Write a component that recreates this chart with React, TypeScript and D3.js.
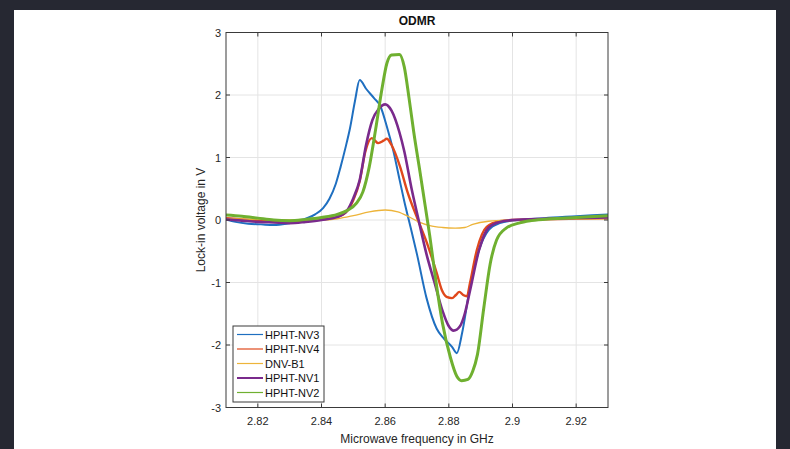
import { useEffect, useRef } from 'react';
import * as d3 from 'd3';

// series: [frequency in GHz, lock-in voltage in V]
const hphtNV3: [number, number][] = [
  [2.81, 0.01], [2.813, -0.03], [2.817, -0.06], [2.821, -0.07], [2.825, -0.08], [2.829, -0.06],
  [2.832, -0.03], [2.835, 0.02], [2.838, 0.09], [2.8405, 0.19], [2.8425, 0.34], [2.8445, 0.58],
  [2.846, 0.85], [2.8475, 1.15], [2.849, 1.48], [2.8505, 1.9], [2.852, 2.24], [2.854, 2.1],
  [2.8565, 1.95], [2.8585, 1.82], [2.8605, 1.5], [2.8626, 1.1], [2.8645, 0.65], [2.866, 0.3],
  [2.868, -0.12], [2.87, -0.55], [2.873, -1.25], [2.8762, -1.74], [2.8785, -1.9], [2.881, -2.03],
  [2.8825, -2.13], [2.8842, -1.8], [2.8865, -1.12], [2.8895, -0.48], [2.8925, -0.16], [2.896, -0.05],
  [2.9, -0.01], [2.91, 0.03], [2.92, 0.06], [2.93, 0.09],
];
const hphtNV4: [number, number][] = [
  [2.81, 0.03], [2.815, 0.01], [2.82, -0.01], [2.825, -0.03], [2.83, -0.04], [2.835, -0.02],
  [2.84, 0.01], [2.845, 0.05], [2.848, 0.14], [2.85, 0.32], [2.852, 0.62], [2.8538, 1.1],
  [2.8558, 1.31], [2.8578, 1.23], [2.8595, 1.27], [2.8605, 1.3], [2.862, 1.2], [2.8647, 0.85],
  [2.867, 0.45], [2.8703, 0.0], [2.873, -0.35], [2.8762, -0.85], [2.8778, -1.12], [2.8793, -1.23],
  [2.881, -1.25], [2.8822, -1.2], [2.8833, -1.15], [2.8845, -1.2], [2.8857, -1.22], [2.8866, -1.02],
  [2.8888, -0.48], [2.8919, -0.11], [2.896, -0.02], [2.9, 0.0], [2.91, 0.01], [2.93, 0.03],
];
const dnvB1: [number, number][] = [
  [2.81, 0.02], [2.82, 0.01], [2.83, 0.0], [2.84, 0.0], [2.845, 0.02], [2.85, 0.07], [2.855, 0.13],
  [2.86, 0.16], [2.864, 0.13], [2.8675, 0.05], [2.8705, -0.03], [2.874, -0.09], [2.878, -0.12],
  [2.882, -0.13], [2.885, -0.12], [2.8875, -0.07], [2.8925, -0.02], [2.9, 0.0], [2.91, 0.01], [2.93, 0.02],
];
const hphtNV1: [number, number][] = [
  [2.81, 0.01], [2.815, -0.01], [2.82, -0.03], [2.825, -0.04], [2.83, -0.05], [2.835, -0.03],
  [2.84, 0.0], [2.845, 0.05], [2.848, 0.15], [2.85, 0.35], [2.852, 0.64], [2.854, 1.2],
  [2.856, 1.6], [2.858, 1.78], [2.86, 1.85], [2.862, 1.75], [2.8645, 1.4], [2.866, 1.1],
  [2.8683, 0.5], [2.8705, 0.0], [2.873, -0.55], [2.8755, -1.0], [2.878, -1.45], [2.88, -1.7],
  [2.8815, -1.77], [2.8835, -1.7], [2.885, -1.5], [2.8867, -1.12], [2.8895, -0.48], [2.8925, -0.12],
  [2.896, -0.03], [2.9, 0.0], [2.91, 0.02], [2.93, 0.04],
];
const hphtNV2: [number, number][] = [
  [2.81, 0.08], [2.815, 0.06], [2.82, 0.03], [2.825, 0.0], [2.83, -0.01], [2.835, 0.01],
  [2.84, 0.04], [2.845, 0.09], [2.848, 0.15], [2.851, 0.27], [2.853, 0.45], [2.855, 0.85],
  [2.857, 1.45], [2.859, 2.1], [2.8605, 2.5], [2.862, 2.64], [2.8645, 2.65], [2.866, 2.45],
  [2.8675, 1.95], [2.869, 1.4], [2.871, 0.75], [2.8725, 0.25], [2.874, -0.25], [2.876, -1.0],
  [2.878, -1.65], [2.8805, -2.2], [2.8825, -2.5], [2.884, -2.57], [2.886, -2.55], [2.8875, -2.42],
  [2.889, -2.15], [2.891, -1.4], [2.893, -0.7], [2.895, -0.32], [2.898, -0.13], [2.902, -0.05],
  [2.906, -0.01], [2.912, 0.02], [2.92, 0.04], [2.93, 0.07],
];

const seriesNames = ['HPHT-NV3', 'HPHT-NV4', 'DNV-B1', 'HPHT-NV1', 'HPHT-NV2'];
const seriesData = [hphtNV3, hphtNV4, dnvB1, hphtNV1, hphtNV2];
const seriesColors = ['#1f6fc0', '#e0481c', '#edb43a', '#7a2a8c', '#6fb030'];
const seriesWidths = [2, 2.4, 1.3, 2.6, 3];
const legendWidths = [1.2, 1.2, 1.2, 2, 1.2];

const xTicks = [2.82, 2.84, 2.86, 2.88, 2.9, 2.92];
const yTicks = [-3, -2, -1, 0, 1, 2, 3];

function App() {
  const chartRef = useRef<SVGSVGElement>(null);

  useEffect(() => {
    const svg = d3.select(chartRef.current);
    svg.selectAll('*').remove();
    const font = '"Liberation Sans", Arial, sans-serif';

    // page background + white figure panel
    svg.append('rect').attr('width', 790).attr('height', 449).attr('fill', '#262832');
    svg.append('rect').attr('x', 14).attr('y', 10).attr('width', 762).attr('height', 439).attr('fill', '#ffffff');

    const left = 226, right = 608, top = 32.5, bottom = 407.5;
    const x = d3.scaleLinear().domain([2.81, 2.93]).range([left, right]);
    const y = d3.scaleLinear().domain([-3, 3]).range([bottom, top]);

    // grid
    const grid = svg.append('g').attr('stroke', '#e4e4e4').attr('stroke-width', 1);
    xTicks.forEach(t => {
      grid.append('line').attr('x1', x(t)).attr('x2', x(t)).attr('y1', top).attr('y2', bottom);
    });
    yTicks.forEach(t => {
      grid.append('line').attr('x1', left).attr('x2', right).attr('y1', y(t)).attr('y2', y(t));
    });

    // lines
    const clip = svg.append('defs').append('clipPath').attr('id', 'plotClip');
    clip.append('rect').attr('x', left).attr('y', top).attr('width', right - left).attr('height', bottom - top);
    const line = d3.line<[number, number]>()
      .x(d => x(d[0]))
      .y(d => y(d[1]))
      .curve(d3.curveMonotoneX);
    const plot = svg.append('g').attr('clip-path', 'url(#plotClip)');
    seriesData.forEach((data, i) => {
      plot.append('path')
        .attr('d', line(data))
        .attr('fill', 'none')
        .attr('stroke', seriesColors[i])
        .attr('stroke-width', seriesWidths[i])
        .attr('stroke-linejoin', 'round');
    });

    // axes box with inward ticks
    const axisColor = '#3a3a3a';
    svg.append('rect')
      .attr('x', left).attr('y', top).attr('width', right - left).attr('height', bottom - top)
      .attr('fill', 'none').attr('stroke', axisColor).attr('stroke-width', 1);
    const ticks = svg.append('g').attr('stroke', axisColor).attr('stroke-width', 1);
    xTicks.forEach(t => {
      ticks.append('line').attr('x1', x(t)).attr('x2', x(t)).attr('y1', bottom).attr('y2', bottom - 4);
      ticks.append('line').attr('x1', x(t)).attr('x2', x(t)).attr('y1', top).attr('y2', top + 4);
    });
    yTicks.forEach(t => {
      ticks.append('line').attr('x1', left).attr('x2', left + 4).attr('y1', y(t)).attr('y2', y(t));
      ticks.append('line').attr('x1', right).attr('x2', right - 4).attr('y1', y(t)).attr('y2', y(t));
    });

    // tick labels
    svg.append('g').selectAll('text').data(xTicks).enter().append('text')
      .attr('x', d => x(d)).attr('y', bottom + 17)
      .attr('text-anchor', 'middle')
      .style('font-family', font).style('font-size', '11px').style('fill', '#262626')
      .text(d => String(d));
    svg.append('g').selectAll('text').data(yTicks).enter().append('text')
      .attr('x', left - 5).attr('y', d => y(d) + 4)
      .attr('text-anchor', 'end')
      .style('font-family', font).style('font-size', '11px').style('fill', '#262626')
      .text(d => String(d));

    // title and axis labels
    svg.append('text').attr('x', 417).attr('y', 25).attr('text-anchor', 'middle')
      .style('font-family', font).style('font-size', '12px').style('font-weight', 'bold').style('fill', '#111')
      .text('ODMR');
    svg.append('text').attr('x', 417).attr('y', 443).attr('text-anchor', 'middle')
      .style('font-family', font).style('font-size', '12px').style('fill', '#262626')
      .text('Microwave frequency in GHz');
    svg.append('text')
      .attr('transform', `translate(205,${(top + bottom) / 2}) rotate(-90)`)
      .attr('text-anchor', 'middle')
      .style('font-family', font).style('font-size', '12px').style('fill', '#262626')
      .text('Lock-in voltage in V');

    // legend
    const legend = svg.append('g').attr('transform', 'translate(233,326)');
    legend.append('rect').attr('width', 91).attr('height', 76)
      .attr('fill', '#ffffff').attr('stroke', axisColor).attr('stroke-width', 1);
    seriesNames.forEach((name, i) => {
      const ly = 8.5 + i * 14.5;
      legend.append('line').attr('x1', 4).attr('x2', 30).attr('y1', ly).attr('y2', ly)
        .attr('stroke', seriesColors[i]).attr('stroke-width', legendWidths[i]);
      legend.append('text').attr('x', 32).attr('y', ly + 4)
        .style('font-family', font).style('font-size', '11px').style('fill', '#111')
        .text(name);
    });
  }, []);

  return (
    <div style={{ position: 'fixed', left: 0, top: 0, width: 790, height: 449 }}>
      <svg ref={chartRef} width={790} height={449} style={{ display: 'block' }} />
    </div>
  );
}

export default App;
